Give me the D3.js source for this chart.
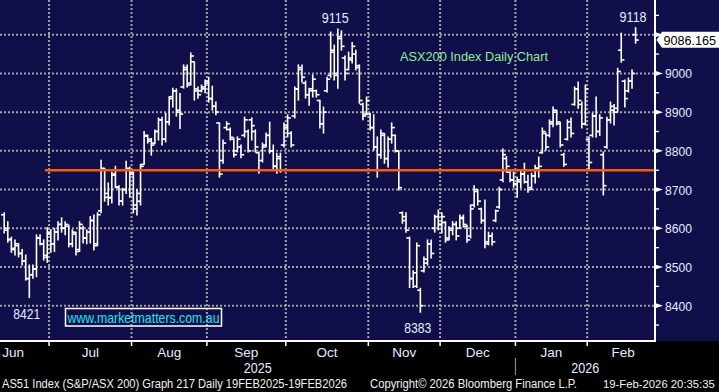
<!DOCTYPE html>
<html><head><meta charset="utf-8">
<script src="https://cdn.jsdelivr.net/npm/d3@7"></script>
<style>
html,body{margin:0;padding:0;background:#000;}
svg{display:block;}
text{font-family:"Liberation Sans",Arial,sans-serif;}
</style>
</head><body>
<svg id="chart" width="719" height="392"></svg>
<script>
// ---- DATA (AS51 Index daily OHLC, 12 Jun 2025 - 19 Feb 2026) ----
const open = [
 8635,8600,8572,8545,8555,8535,8515,8470,8480,8495,8575,8560,8525,
 8585,8560,8590,8610,8600,8605,8560,8585,8545,8600,8575,8590,8620,8560,8645,8750,8690,8680,8740,8705,8670,8700,8750,
 8740,8650,8670,8765,8838,8830,8820,8850,8880,8830,8875,8940,8955,8905,8965,9010,8975,9030,8955,8955,8960,
 8980,8935,8915,8872,8775,8860,8855,8830,8800,8810,8840,8850,8880,8850,8795,8775,8815,8840,8800,8760,8785,8815,
 8860,8845,8890,8960,9015,8975,8945,8960,8955,8930,8870,8955,8995,9055,8995,9095,9040,9010,9035,9050,9020,8920,8895,
 8895,8860,8810,8790,8840,8780,8830,8840,8800,8640,8630,8575,8470,8450,8440,8490,8510,8560,8600,8630,
 8610,8615,8575,8595,8610,8600,8625,8605,8580,8660,8695,8650,8620,8565,8580,8620,8655,8725,8780,8745,8725,
 8715,8720,8740,8720,8705,8735,8755,8795,8845,8840,8870,8900,8870,8790,8830,8860,8920,8960,8920,8870,
 8830,8840,8890,8850,8790,8810,8880,8905,8910,9060,8980,8955,8980,9100
];
const high = [
 8640,8617,8577,8570,8560,8545,8531,8505,8505,8583,8583,8570,8602,
 8596,8600,8617,8627,8617,8608,8596,8590,8617,8605,8596,8630,8634,8640,8776,8755,8717,8745,8760,8710,8703,8773,8758,
 8745,8700,8765,8850,8841,8832,8854,8885,8887,8897,8940,8962,8960,8948,9022,9022,9053,9030,8965,8970,8983,
 8990,8967,8926,8872,8828,8875,8859,8833,8836,8815,8887,8854,8885,8854,8797,8820,8846,8874,8815,8794,8794,8872,
 8893,8849,8965,9022,9022,8980,8962,8996,8957,8931,8913,8990,9107,9073,9115,9110,9045,9055,9080,9060,9022,8923,8939,
 8897,8893,8836,8854,8845,8836,8872,8841,8800,8642,8640,8577,8490,8562,8445,8526,8570,8570,8634,8647,
 8640,8617,8604,8617,8617,8634,8634,8608,8660,8710,8700,8652,8673,8590,8588,8647,8706,8805,8785,8748,8745,
 8732,8750,8768,8737,8742,8763,8784,8859,8846,8880,8913,8905,8874,8794,8880,8885,8965,8978,8926,8970,
 8836,8897,8939,8893,8797,8887,8926,8920,9013,9104,8983,8988,9009,9118
];
const low = [
 8588,8564,8538,8531,8526,8505,8466,8421,8471,8475,8557,8518,8512,
 8538,8540,8570,8590,8583,8552,8552,8531,8540,8562,8560,8562,8544,8555,8640,8670,8660,8665,8705,8660,8660,8690,8680,
 8640,8634,8660,8765,8820,8789,8818,8828,8815,8823,8867,8913,8890,8858,8962,8965,8970,8931,8936,8952,8950,
 8926,8905,8893,8732,8768,8854,8828,8784,8797,8782,8836,8797,8828,8797,8742,8771,8810,8794,8750,8742,8745,8810,
 8836,8810,8885,8931,8978,8936,8918,8939,8939,8859,8846,8952,8990,8983,8962,9060,8983,9009,9027,9009,8923,8880,8893,
 8854,8802,8732,8781,8768,8758,8820,8797,8699,8613,8590,8447,8447,8447,8383,8487,8505,8523,8590,8596,
 8588,8564,8570,8583,8570,8600,8603,8564,8575,8655,8660,8613,8550,8557,8557,8617,8652,8720,8745,8720,8706,
 8680,8704,8717,8693,8700,8717,8732,8794,8802,8836,8862,8867,8810,8760,8828,8836,8918,8910,8859,8867,
 8750,8836,8836,8840,8686,8807,8872,8867,8900,9029,8913,8952,8962,9078
];
const close = [
 8595,8570,8548,8560,8535,8515,8470,8480,8495,8575,8560,8530,8590,
 8560,8590,8610,8600,8610,8560,8590,8540,8610,8575,8590,8620,8555,8635,8755,8680,8678,8737,8707,8670,8700,8755,8745,
 8660,8690,8760,8840,8825,8815,8850,8880,8830,8875,8935,8955,8900,8895,9015,8970,9045,8960,8945,8965,8975,
 8935,8915,8900,8740,8820,8870,8835,8790,8830,8790,8880,8800,8865,8810,8750,8810,8840,8800,8760,8780,8750,8865,
 8885,8815,8960,9010,8990,8945,8955,8985,8945,8870,8900,8985,9060,9000,9090,9070,9000,9040,9070,9015,8930,8890,8930,
 8860,8810,8790,8845,8780,8830,8860,8800,8705,8620,8595,8470,8485,8555,8400,8520,8560,8535,8630,8610,
 8630,8570,8600,8610,8580,8628,8610,8570,8650,8700,8670,8620,8560,8580,8565,8645,8700,8790,8760,8725,8715,
 8725,8740,8720,8700,8735,8755,8760,8850,8810,8875,8905,8875,8815,8765,8875,8845,8960,8930,8870,8960,
 8770,8890,8850,8885,8710,8880,8915,8900,9005,9035,8935,8980,9000,9086.165
];
const firstDate = "2025-06-12";
const holidays = ["2025-06-09","2025-12-25","2025-12-26","2026-01-01","2026-01-26"];
const monthNames = ["Jun","Jul","Aug","Sep","Oct","Nov","Dec","Jan","Feb"];
const yearNames = ["2025","2026"];
const yTickValues = [8400,8500,8600,8700,8800,8900,9000];
const gridValues = [8400,8500,8600,8700,8800,8900,9000,9100];
const minorTickValues = [8350,8450,8550,8650,8750,8850,8950,9050,9150];
const majorTickValues = [8400,8500,8600,8700,8800,8900,9000,9100];
const referenceLevel = 8750;
const lastPrice = 9086.165;
const annotations = [
  {label:"9115", date:"2025-10-21", value:9115, side:"above"},
  {label:"9118", date:"2026-02-19", value:9118, side:"above"},
  {label:"8421", date:"2025-06-23", value:8421, side:"below"},
  {label:"8383", date:"2025-11-21", value:8383, side:"below"}
];
const titleText = "ASX200 Index Daily Chart";
const sourceText = "www.marketmatters.com.au";
const footerLeft = "AS51 Index (S&P/ASX 200) Graph 217 Daily 19FEB2025-19FEB2026";
const footerMid = "Copyright\u00A9 2026 Bloomberg Finance L.P.";
const footerRight = "19-Feb-2026 20:35:35";

// ---- trading calendar ----
const fmt = d3.timeFormat("%Y-%m-%d");
const allDays = d3.timeDay.range(new Date(2025,5,1), new Date(2026,2,1))
  .filter(d => d.getDay()!==0 && d.getDay()!==6 && !holidays.includes(fmt(d)));
const startPos = allDays.findIndex(d => fmt(d)===firstDate);
const dayIndex = d => allDays.findIndex(x => fmt(x)===d) - startPos;
const N = close.length;

// ---- layout ----
const W = 719, H = 392;
const plotRight = 655, plotBottom = 341;
const svg = d3.select("#chart");
const x = d3.scaleLinear().domain([0, N-1]).range([4.2, 635.6]);
const y = d3.scaleLinear().domain([8400, 9100]).range([305.7, 34.7]);

svg.append("rect").attr("width",W).attr("height",H).attr("fill","#000");
svg.append("rect").attr("width",W).attr("height",plotBottom).attr("fill","#110f4a");

// months
const months = d3.groups(allDays.map((d,k)=>({d, i:k-startPos})), o => d3.timeFormat("%Y-%m")(o.d))
  .map(([key, arr], j) => ({name: monthNames[j], key, start: arr[0].i, end: arr[arr.length-1].i}));
const boundaries = months.filter(m => m.start > 0).map(m => ({m, xb: x(m.start - 0.5)}));

const grid = svg.append("g").attr("stroke","#a2a2a8").attr("stroke-width",2).attr("stroke-dasharray","2,2");
gridValues.forEach(v => grid.append("line").attr("x1",0).attr("x2",plotRight).attr("y1",y(v)).attr("y2",y(v)));
boundaries.forEach(b => grid.append("line").attr("x1",b.xb).attr("x2",b.xb).attr("y1",0).attr("y2",plotBottom));

// OHLC bars
const bars = svg.append("g").attr("stroke","#fff").attr("stroke-width",1.6);
d3.range(N).forEach(i => {
  const cx = x(i);
  bars.append("line").attr("x1",cx).attr("x2",cx).attr("y1",y(high[i])-0.5).attr("y2",y(low[i])+0.5);
  bars.append("line").attr("x1",cx-3.2).attr("x2",cx).attr("y1",y(open[i])).attr("y2",y(open[i]));
  bars.append("line").attr("x1",cx).attr("x2",cx+3.2).attr("y1",y(close[i])).attr("y2",y(close[i]));
});

// reference line
svg.append("line").attr("x1",45).attr("x2",plotRight).attr("y1",y(referenceLevel)).attr("y2",y(referenceLevel))
  .attr("stroke","#ff5a0a").attr("stroke-width",2.4);

// axes
svg.append("line").attr("x1",0).attr("x2",plotRight+1).attr("y1",plotBottom).attr("y2",plotBottom).attr("stroke","#fff").attr("stroke-width",2);
svg.append("line").attr("x1",plotRight).attr("x2",plotRight).attr("y1",0).attr("y2",plotBottom).attr("stroke","#fff").attr("stroke-width",2);
boundaries.forEach(b => svg.append("line").attr("x1",b.xb).attr("x2",b.xb).attr("y1",plotBottom).attr("y2",plotBottom+5).attr("stroke","#fff").attr("stroke-width",1.5));
minorTickValues.forEach(v => svg.append("line").attr("x1",plotRight).attr("x2",plotRight+4).attr("y1",y(v)).attr("y2",y(v)).attr("stroke","#fff").attr("stroke-width",1.3));
majorTickValues.forEach(v => svg.append("path").attr("d",`M${plotRight},${y(v)-2.6}L${plotRight+8},${y(v)}L${plotRight},${y(v)+2.6}Z`).attr("fill","#fff"));
yTickValues.forEach(v => svg.append("text").attr("x",665).attr("y",y(v)+5).attr("font-size",13.5).attr("fill","#e4ecff")
  .attr("textLength",27).attr("lengthAdjust","spacingAndGlyphs").text(v));

// month and year labels
months.forEach(m => {
  svg.append("text").attr("x", x((m.start - 0.5 + m.end + 0.5)/2)).attr("y",357).attr("text-anchor","middle")
    .attr("font-size",13.5).attr("fill","#e4ecff").text(m.name);
});
const yearBoundary = boundaries.find(b => b.m.name==="Jan").xb;
svg.append("line").attr("x1",yearBoundary).attr("x2",yearBoundary).attr("y1",358).attr("y2",375).attr("stroke","#9a9a9a").attr("stroke-width",1);
[[0,yearBoundary],[yearBoundary,plotRight]].forEach((r,j) => {
  svg.append("text").attr("x",(r[0]+r[1])/2).attr("y",373).attr("text-anchor","middle").attr("font-size",14.5)
    .attr("fill","#e4ecff").attr("textLength",28).attr("lengthAdjust","spacingAndGlyphs").text(yearNames[j]);
});

// last price box
const yp = y(lastPrice);
svg.append("path").attr("d",`M${plotRight+1.5},${yp}L${plotRight+7},${yp-8.3}L${W},${yp-8.3}L${W},${yp+7.7}L${plotRight+7},${yp+7.7}Z`).attr("fill","#fff");
svg.append("text").attr("x",663.5).attr("y",yp+5).attr("font-size",12.6).attr("fill","#000")
  .text(lastPrice.toFixed(3));

// annotations
annotations.forEach(a => {
  const i = dayIndex(a.date);
  svg.append("text").attr("x", x(i)-2.5).attr("y", a.side==="above" ? y(a.value)-6 : y(a.value)+21)
    .attr("text-anchor","middle").attr("font-size",14.5).attr("fill","#e4ecff")
    .attr("textLength",27).attr("lengthAdjust","spacingAndGlyphs").text(a.label);
});

// title
svg.append("text").attr("x",400).attr("y",60.5).attr("font-size",13.5).attr("fill","#8fee8f")
  .attr("textLength",148).attr("lengthAdjust","spacingAndGlyphs").text(titleText);

// source box
svg.append("rect").attr("x",65.5).attr("y",308.5).attr("width",156).attr("height",17.5).attr("fill","none").attr("stroke","#fff").attr("stroke-width",1.5);
svg.append("text").attr("x",67.5).attr("y",322.5).attr("font-size",14.5).attr("fill","#1ee4f0")
  .attr("textLength",152).attr("lengthAdjust","spacingAndGlyphs").text(sourceText);

// footer
const foot = [[footerLeft,2,345],[footerMid,370,207]];
foot.forEach(f => svg.append("text").attr("x",f[1]).attr("y",388).attr("font-size",12.5).attr("fill","#f2f2f2")
  .attr("textLength",f[2]).attr("lengthAdjust","spacingAndGlyphs").text(f[0]));
svg.append("text").attr("x",603).attr("y",388).attr("font-size",11.3).attr("fill","#f2f2f2").text(footerRight);
</script>
</body></html>
